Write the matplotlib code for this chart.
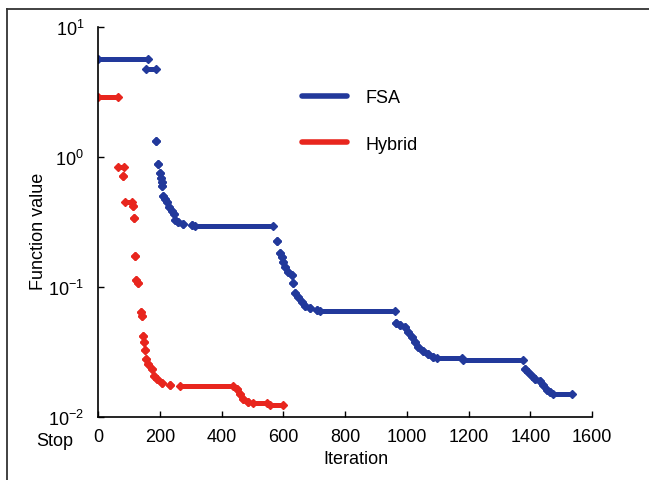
import matplotlib
matplotlib.use("Agg")
import matplotlib.pyplot as plt
from matplotlib.lines import Line2D

plt.rcParams['font.family'] = ['Liberation Sans', 'DejaVu Sans']
plt.rcParams['mathtext.fontset'] = 'custom'
plt.rcParams['mathtext.rm'] = 'Liberation Sans'
plt.rcParams['mathtext.it'] = 'Liberation Sans:italic'
plt.rcParams['mathtext.bf'] = 'Liberation Sans:bold'

# ---- data: each entry is a step (start iteration, end iteration, value); points have start == end
fsa_start = [0, 155, 187, 193, 201, 204, 206, 207, 211, 217, 222, 231, 239, 246, 249, 260, 276, 303,
             314, 579, 589, 595, 598, 606, 616, 627, 633, 638, 649, 660, 670, 687, 708,
             719, 965, 978, 994, 1005, 1016, 1027, 1037, 1054, 1070, 1086,
             1097, 1183, 1383, 1394, 1405, 1415, 1432, 1442, 1453, 1464, 1475]
fsa_end = [162, 188, 187, 193, 201, 204, 206, 207, 211, 217, 222, 231, 239, 246, 249, 260, 276, 303,
           568, 579, 589, 595, 598, 606, 616, 627, 633, 638, 649, 660, 670, 687, 708,
           963, 965, 978, 994, 1005, 1016, 1027, 1037, 1054, 1070, 1086,
           1178, 1377, 1383, 1394, 1405, 1415, 1432, 1442, 1453, 1464, 1534]
fsa_value = [5.65, 4.78, 1.335, 0.879, 0.749, 0.690, 0.639, 0.595, 0.504, 0.475, 0.448, 0.410, 0.386,
             0.364, 0.329, 0.3146, 0.305, 0.300,
             0.2945, 0.227, 0.1816, 0.1692, 0.1549, 0.1418, 0.1297, 0.1243, 0.1073, 0.0899, 0.0833,
             0.0771, 0.0718, 0.0689, 0.0669,
             0.0657, 0.0528, 0.0510, 0.0490, 0.0448, 0.0410, 0.0375, 0.0344, 0.0324, 0.0305, 0.0288,
             0.02828, 0.02759, 0.02339, 0.02207, 0.02078, 0.0196, 0.01905, 0.01763, 0.01622, 0.01549,
             0.01503]

hyb_start = [0, 65, 82, 87, 114, 118, 120, 122, 131, 138, 143, 147, 150, 151, 155, 163, 174, 182, 190,
             206, 233, 266, 449, 460, 471, 487, 503, 557]
hyb_end = [65, 84, 82, 109, 114, 118, 120, 122, 131, 138, 143, 147, 150, 151, 155, 163, 174, 182, 190,
           206, 233, 438, 449, 460, 471, 487, 546, 600]
hyb_value = [2.88, 0.833, 0.718, 0.448, 0.422, 0.3396, 0.174, 0.1138, 0.1073, 0.0639, 0.0595, 0.0418,
             0.0375, 0.0329, 0.0279, 0.0256, 0.0234, 0.0208, 0.0196, 0.01816, 0.01763, 0.01731,
             0.01642, 0.01503, 0.01376, 0.01297, 0.01281, 0.01243]

series_names = ["FSA", "Hybrid"]
x_ticks = [0, 200, 400, 600, 800, 1000, 1200, 1400, 1600]
y_ticks = [1e-2, 1e-1, 1e0, 1e1]
y_ticklabels = [r"$10^{-2}$", r"$10^{-1}$", r"$10^{0}$", r"$10^{1}$"]

blue = '#22399b'
red = '#e8261e'

W, H = 649, 481
fig = plt.figure(figsize=(W / 100, H / 100), dpi=100)
ax = fig.add_axes([98 / W, 1 - 418 / H, (592 - 98) / W, (418 - 28) / H])

lw = 3.6
ms = 3.6
for s, e, v, c in [(fsa_start, fsa_end, fsa_value, blue), (hyb_start, hyb_end, hyb_value, red)]:
    ax.hlines(v, s, e, colors=c, linewidth=lw)
    ax.plot(s, v, 'D', ms=ms, color=c, mec=c, ls='none')
    ax.plot(e, v, 'D', ms=ms, color=c, mec=c, ls='none')

ax.set_yscale('log')
ax.set_xlim(0, 1600)
ax.set_ylim(1e-2, 1e1)
ax.set_xticks(x_ticks)
ax.set_yticks(y_ticks)
ax.set_yticklabels(y_ticklabels)
ax.minorticks_off()
ax.tick_params(direction='in', length=4, width=1.0, labelsize=13, colors='black')
ax.tick_params(axis='y', pad=10)
ax.tick_params(axis='x', pad=8)
for sp in ['top', 'right']:
    ax.spines[sp].set_visible(False)
for sp in ['left', 'bottom']:
    ax.spines[sp].set_linewidth(1.2)

ax.set_xlabel("Iteration", fontsize=13)
ax.xaxis.set_label_coords((356 - 98) / (592 - 98), -0.085)
ax.set_ylabel("Function value", fontsize=13)
ax.yaxis.set_label_coords((47 - 98) / (592 - 98), (418 - 231) / (418 - 28))

fig.text(55 / W, 1 - 442 / H, "Stop", fontsize=13, ha='center', va='center')

handles = [Line2D([], [], color=blue, lw=4, solid_capstyle='round'),
           Line2D([], [], color=red, lw=4, solid_capstyle='round')]
leg = ax.legend(handles, series_names, loc='upper left', bbox_to_anchor=(302 / W, 1 - 90 / H),
                bbox_transform=fig.transFigure, frameon=False, fontsize=13,
                handlelength=2.5, handletextpad=1.0, labelspacing=1.65, borderpad=0, borderaxespad=0)

# outer frame (top and left edges)
fig.add_artist(Line2D([7 / W, 7 / W], [1 - 10 / H, 0], transform=fig.transFigure, color='#333333', lw=1.3))
fig.add_artist(Line2D([7 / W, 1], [1 - 10 / H, 1 - 10 / H], transform=fig.transFigure, color='#333333', lw=1.3))

fig.savefig("out.png", dpi=100)
